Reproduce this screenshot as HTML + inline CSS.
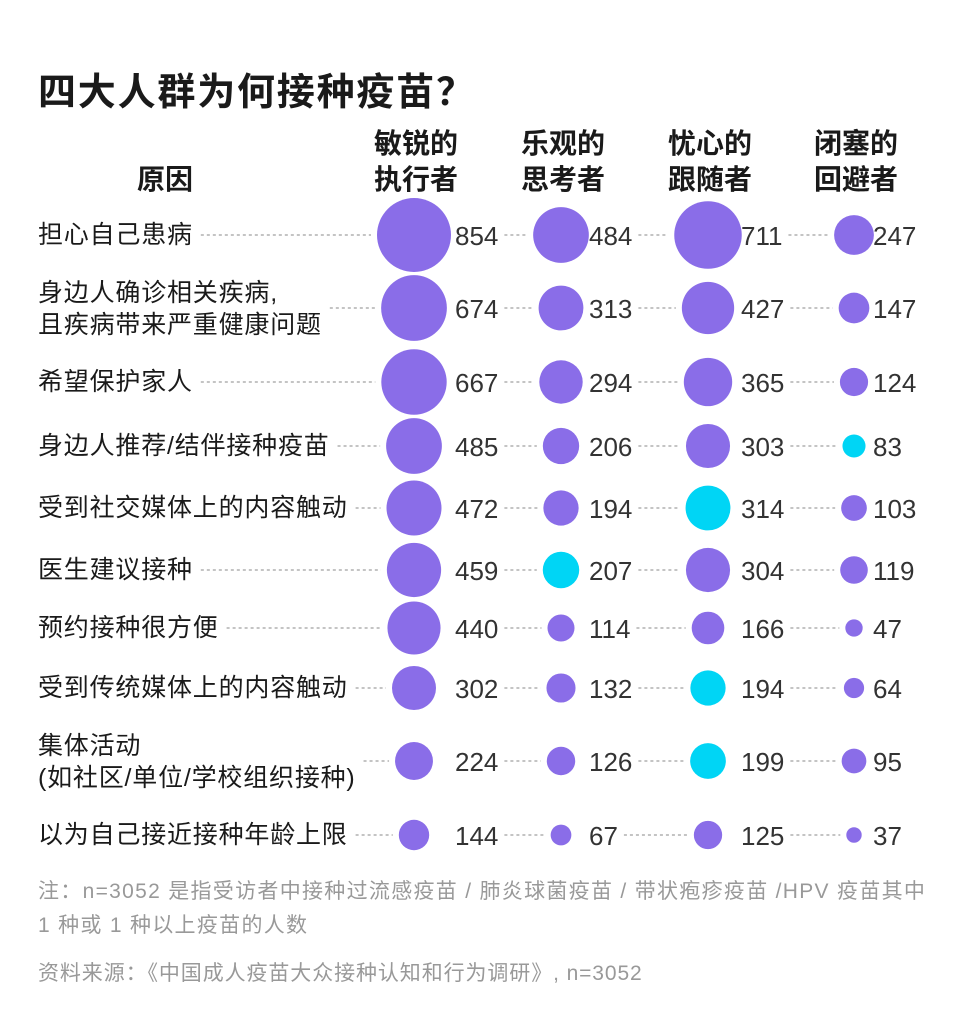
<!DOCTYPE html>
<html><head><meta charset="utf-8"><style>
body{margin:0;background:#fff;}
svg{display:block;font-family:"Liberation Sans","Noto Sans CJK SC",sans-serif;}
</style></head><body>
<svg id="chart" width="960" height="1035" viewBox="0 0 960 1035">
<text x="38" y="105" font-size="38" font-weight="bold" fill="#1a1a1a" letter-spacing="1.8">四大人群为何接种疫苗？</text>
<text x="165" y="189" font-size="28" font-weight="bold" fill="#1a1a1a" text-anchor="middle">原因</text>
<g id="heads"></g><g id="rows"></g>
<text font-size="21" fill="#999" letter-spacing="1.3"><tspan x="38" y="898">注：n=3052 是指受访者中接种过流感疫苗 / 肺炎球菌疫苗 / 带状疱疹疫苗 /HPV 疫苗其中</tspan><tspan x="38" y="932">1 种或 1 种以上疫苗的人数</tspan></text>
<text x="38" y="980" font-size="21" fill="#999" letter-spacing="0.9">资料来源：《中国成人疫苗大众接种认知和行为调研》, n=3052</text>
</svg>
<script>
const groups=[["敏锐的","执行者"],["乐观的","思考者"],["忧心的","跟随者"],["闭塞的","回避者"]];
const reasons=[["担心自己患病"],["身边人确诊相关疾病,","且疾病带来严重健康问题"],["希望保护家人"],["身边人推荐/结伴接种疫苗"],["受到社交媒体上的内容触动"],["医生建议接种"],["预约接种很方便"],["受到传统媒体上的内容触动"],["集体活动","(如社区/单位/学校组织接种)"],["以为自己接近接种年龄上限"]];
const executor=[854,674,667,485,472,459,440,302,224,144];
const thinker=[484,313,294,206,194,207,114,132,126,67];
const follower=[711,427,365,303,314,304,166,194,199,125];
const avoider=[247,147,124,83,103,119,47,64,95,37];
const series=[executor,thinker,follower,avoider];
const cyanCells=[[3,3],[4,2],[5,1],[7,2],[8,2]];
const NS="http://www.w3.org/2000/svg";
const colX=[414,561,708,854], textX=[455,589,741,873];
const rowY=[235,308,382,446,508,570,628,688,761,835];
const rScale=v=>1.266*Math.sqrt(v);
function mk(t,a,p){const e=document.createElementNS(NS,t);for(const k in a)e.setAttribute(k,a[k]);p.appendChild(e);return e;}
const heads=document.getElementById('heads');
groups.forEach((g,i)=>{
 const t=mk('text',{x:colX[i]+2,'font-size':28,'font-weight':'bold',fill:'#1a1a1a','text-anchor':'middle'},heads);
 
 
 mk('tspan',{x:colX[i]+2,y:153},t).textContent=g[0];
 mk('tspan',{x:colX[i]+2,y:189},t).textContent=g[1];
});
const rows=document.getElementById('rows');
function dash(x1,x2,y){if(x2-x1<4)return;const l=mk('line',{x1,x2,y1:y,y2:y,stroke:'#888','stroke-width':1,'stroke-dasharray':'3,3'},rows);
 
 }
reasons.forEach((r,i)=>{
 const y=rowY[i];
 const t=mk('text',{x:38,'font-size':25,fill:'#1a1a1a','letter-spacing':0.8},rows);
 
 
 if(r.length===1){mk('tspan',{x:38,y:y+8},t).textContent=r[0];}
 else{mk('tspan',{x:38,y:y-7},t).textContent=r[0];mk('tspan',{x:38,y:y+25},t).textContent=r[1];}
 const tw=t.getBBox().width;
 let prevEnd=38+tw+8;
 series.forEach((s,j)=>{
  const v=s[i],r0=rScale(v);
  const cyan=cyanCells.some(c=>c[0]===i&&c[1]===j);
  dash(prevEnd,colX[j]-r0-6,y);
  const c=mk('circle',{cx:colX[j],cy:y,r:r0,fill:cyan?'#00d5f5':'#8a6de8'},rows);
  
  
  const n=mk('text',{x:textX[j],y:y+10,'font-size':26,fill:'#333'},rows);
  
  
  n.textContent=v;
  prevEnd=textX[j]+n.getBBox().width+6;
 });
});
</script>
</body></html>
